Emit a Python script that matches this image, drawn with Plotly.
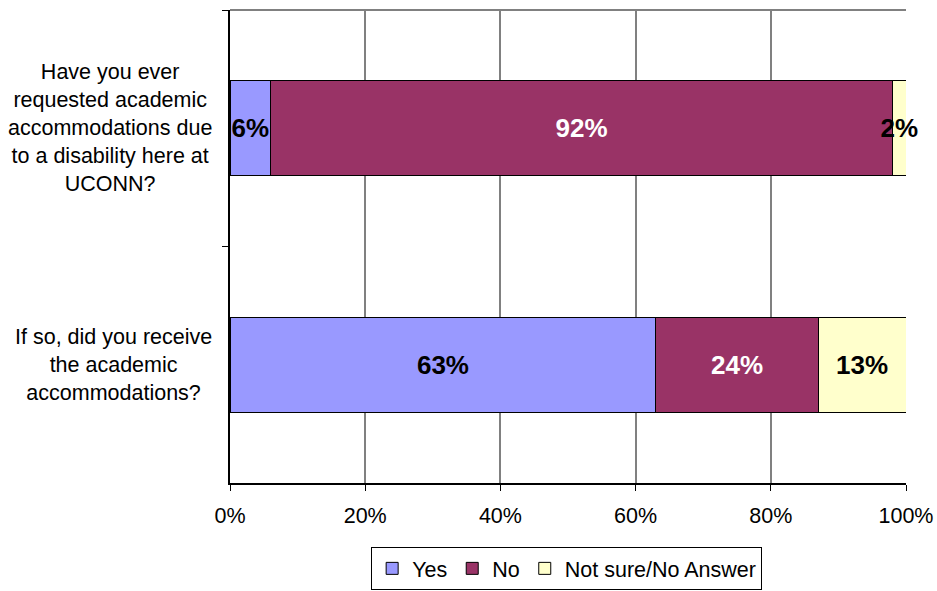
import plotly.graph_objects as go

questions = [
    "Have you ever<br>requested academic<br>accommodations due<br>to a disability here at<br>UCONN?",
    "If so, did you receive<br>the academic<br>accommodations?",
]
series_names = ["Yes", "No", "Not sure/No Answer"]
yes = [0.06, 0.63]
no = [0.92, 0.24]
not_sure = [0.02, 0.13]
x_ticks = [0, 0.2, 0.4, 0.6, 0.8, 1.0]

colors = ["#9999FF", "#993366", "#FFFFCC"]
text_colors = ["black", "white", "black"]
FONT = "Liberation Sans, Arial"

fig = go.Figure()
for name, vals, c, tc in zip(series_names, [yes, no, not_sure], colors, text_colors):
    fig.add_trace(go.Bar(
        y=questions, x=vals, name=name, orientation="h",
        marker=dict(color=c, line=dict(color="black", width=1)),
        text=[f"{round(v*100)}%" for v in vals],
        textposition="inside", insidetextanchor="middle",
        textangle=0, constraintext="none", cliponaxis=False,
        textfont=dict(family=FONT, size=26, color=tc, weight="bold"),
    ))

for q in questions:
    fig.add_annotation(x=0, xref="paper", y=q, yref="y", text=q, showarrow=False,
                       xanchor="right", xshift=-16, align="center",
                       font=dict(family=FONT, size=21.5, color="black"))

fig.add_shape(type="line", xref="paper", yref="paper", x0=0, x1=1, y0=1, y1=1,
              line=dict(color="#808080", width=2))

fig.update_layout(
    width=937, height=591,
    margin=dict(l=230, r=31, t=10, b=108, autoexpand=False),
    barmode="stack", bargap=0.6,
    plot_bgcolor="white", paper_bgcolor="white",
    font=dict(family=FONT, size=21.5, color="black"),
    showlegend=True,
    legend=dict(orientation="h", x=0.498, xanchor="center", y=-0.226, yanchor="bottom",
                bordercolor="black", borderwidth=1, font=dict(size=21.5),
                itemwidth=30, traceorder="normal"),
    xaxis=dict(range=[0, 1], tickvals=x_ticks, tickformat=".0%",
               showgrid=True, gridcolor="#808080", gridwidth=2,
               showline=True, linecolor="black", linewidth=2,
               ticks="outside", ticklen=6, tickcolor="black",
               ticklabelstandoff=6, zeroline=False, automargin=False),
    yaxis=dict(categoryorder="array", categoryarray=questions, autorange="reversed",
               showticklabels=False, showgrid=False, automargin=False,
               showline=True, linecolor="black", linewidth=2,
               ticks="outside", ticklen=6, tickcolor="black", tickson="boundaries"),
)

fig.write_html("out.html")
